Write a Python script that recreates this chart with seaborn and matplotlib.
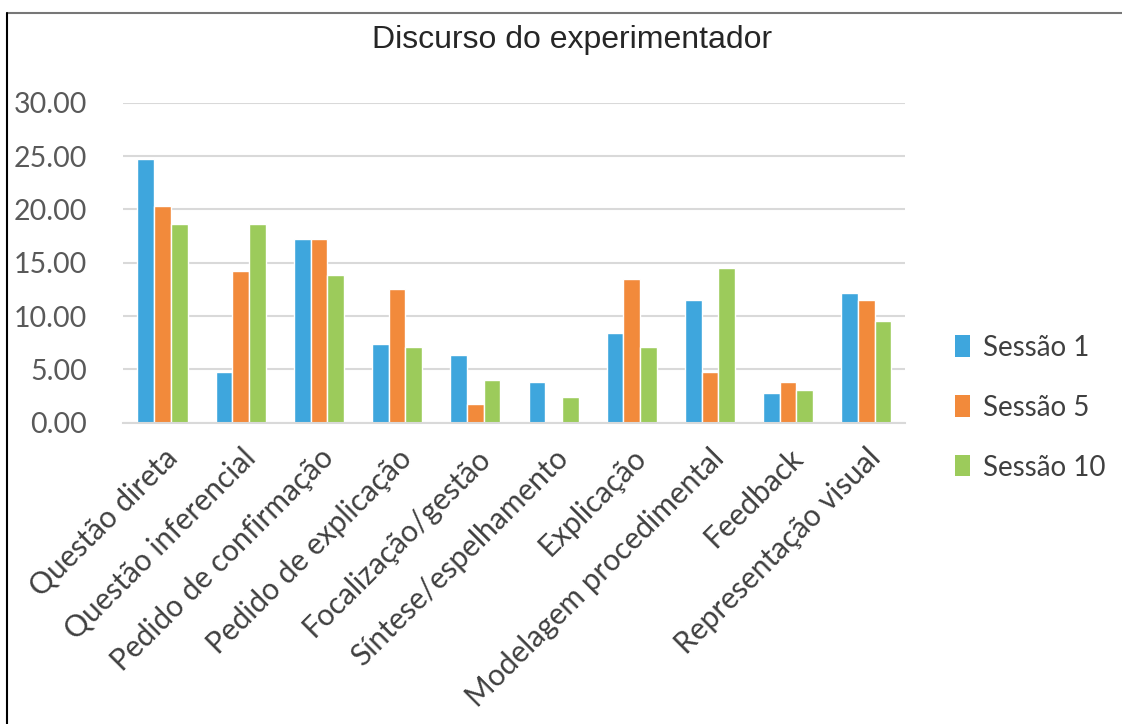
import pandas as pd
import seaborn as sns
import matplotlib.pyplot as plt
from matplotlib.patches import Patch
from matplotlib.lines import Line2D

# Data
categories = ['Questão direta', 'Questão inferencial', 'Pedido de confirmação',
              'Pedido de explicação', 'Focalização/gestão', 'Síntese/espelhamento',
              'Explicação', 'Modelagem procedimental', 'Feedback', 'Representação visual']
sessao_1 = [24.7, 4.8, 17.2, 7.4, 6.4, 3.8, 8.4, 11.5, 2.8, 12.2]
sessao_5 = [20.3, 14.2, 17.2, 12.5, 1.8, 0.0, 13.5, 4.8, 3.8, 11.5]
sessao_10 = [18.6, 18.6, 13.9, 7.1, 4.0, 2.4, 7.1, 14.5, 3.1, 9.5]
series_names = ['Sessão 1', 'Sessão 5', 'Sessão 10']
colors = ['#3EA6DD', '#F28A3B', '#9CCB5B']

df = pd.DataFrame({'Categoria': categories * 3,
                   'Valor': sessao_1 + sessao_5 + sessao_10,
                   'Sessão': [s for s in series_names for _ in categories]})

sns.set_style('white')
plt.rcParams['font.family'] = ['Lato', 'DejaVu Sans']

fig = plt.figure(figsize=(11.22, 7.24), dpi=100)
ax = fig.add_axes([0.110, 0.416, 0.697, 0.442])

sns.barplot(data=df, x='Categoria', y='Valor', hue='Sessão', palette=colors,
            width=0.64, saturation=1, errorbar=None, legend=False, ax=ax)

ax.set_ylim(0, 30)
ax.set_yticks(range(0, 31, 5))
ax.set_yticklabels([f'{v:.2f}' for v in range(0, 31, 5)])
ax.set_xlim(-0.5, len(categories) - 0.5)
ax.yaxis.grid(True, color='#D9D9D9', linewidth=1.5)
ax.set_axisbelow(True)
for side in ['top', 'right', 'left']:
    ax.spines[side].set_visible(False)
ax.spines['bottom'].set_color('#D9D9D9')
ax.spines['bottom'].set_linewidth(1.5)
ax.set_xlabel('')
ax.set_ylabel('')
ax.tick_params(axis='y', length=0, pad=26, labelsize=20.5, labelcolor='#595959')
ax.tick_params(axis='x', length=0, pad=15, labelsize=21.5, labelcolor='#404040')
plt.setp(ax.get_xticklabels(), rotation=45, ha='right', rotation_mode='anchor')

fig.text(0.51, 0.945, 'Discurso do experimentador', fontsize=23, color='#262626',
         family='Liberation Sans', ha='center', va='center')

handles = [Patch(facecolor=c, edgecolor='none') for c in colors]
fig.legend(handles, series_names, loc='center left', bbox_to_anchor=(0.829, 0.437),
           frameon=False, fontsize=20, handlelength=0.55, handleheight=0.8,
           handletextpad=0.45, labelspacing=1.22, labelcolor='#404040')

# outer frame: grey top line and black left line
fig.add_artist(Line2D([0.0065, 1.0], [0.9825, 0.9825], transform=fig.transFigure,
                      color='#777777', linewidth=1.5))
fig.add_artist(Line2D([0.0065, 0.0065], [0.0, 0.9825], transform=fig.transFigure,
                      color='black', linewidth=1.5))

fig.savefig('out.png', dpi=100)
